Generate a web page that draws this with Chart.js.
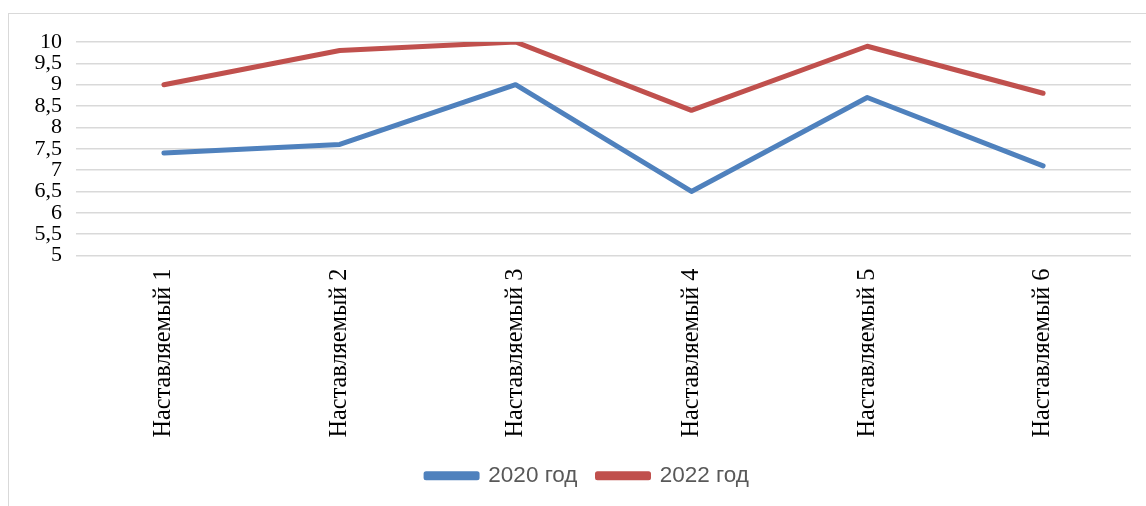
<!DOCTYPE html>
<html>
<head>
<meta charset="utf-8">
<script src="https://cdn.jsdelivr.net/npm/chart.js"></script>
<style>
  html, body { margin: 0; padding: 0; background: #fff; overflow: hidden; }
  #wrap { position: relative; width: 1146px; height: 506px; }
  #frame { position: absolute; left: 8px; top: 13px; width: 1300px; height: 700px; border: 1.5px solid #d9d9d9; box-sizing: border-box; }
  canvas { position: absolute; left: 0; top: 0; }
</style>
</head>
<body>
<div id="wrap">
  <div id="frame"></div>
  <canvas id="c" width="1146" height="506"></canvas>
</div>
<script>
const categories = ["Наставляемый 1", "Наставляемый 2", "Наставляемый 3", "Наставляемый 4", "Наставляемый 5", "Наставляемый 6"];
const series2020 = [7.4, 7.6, 9.0, 6.5, 8.7, 7.1];
const series2022 = [9.0, 9.8, 10.0, 8.4, 9.9, 8.8];
const seriesNames = ["2020 год", "2022 год"];
const yTickLabels = ["5", "5,5", "6", "6,5", "7", "7,5", "8", "8,5", "9", "9,5", "10"];
const yMin = 5, yMax = 10, yStep = 0.5;

const legendShift = {
  id: 'legendShift',
  afterLayout(chart) {
    if (chart.legend) { chart.legend.left += 22; chart.legend.right += 22; }
  }
};

new Chart(document.getElementById('c'), {
  type: 'line',
  data: {
    labels: categories,
    datasets: [
      { label: seriesNames[0], data: series2020, borderColor: '#4f81bd', backgroundColor: '#4f81bd' },
      { label: seriesNames[1], data: series2022, borderColor: '#c0504d', backgroundColor: '#c0504d' }
    ]
  },
  plugins: [legendShift],
  options: {
    responsive: false,
    animation: false,
    layout: { padding: { left: 0, right: 15, top: 42, bottom: 9 } },
    elements: {
      line: { borderWidth: 5, tension: 0, borderCapStyle: 'round', borderJoinStyle: 'round', fill: false },
      point: { radius: 0, hoverRadius: 0 }
    },
    plugins: {
      tooltip: { enabled: false },
      legend: {
        position: 'bottom',
        labels: {
          boxWidth: 51, boxHeight: 4, padding: 20,
          color: '#595959',
          font: { family: 'Liberation Sans', size: 22.5 }
        }
      }
    },
    scales: {
      x: {
        offset: true,
        grid: { display: false },
        border: { display: false },
        ticks: {
          color: '#000', maxRotation: 90, minRotation: 90, padding: 5,
          font: { family: 'Liberation Serif', size: 24.3 }
        },
        afterFit: (s) => { s.height = 189; }
      },
      y: {
        min: yMin, max: yMax,
        grid: { color: '#d9d9d9', lineWidth: 1.5, drawTicks: false },
        border: { display: false },
        ticks: {
          stepSize: yStep, autoSkip: false, color: '#000', padding: 14,
          font: { family: 'Liberation Serif', size: 22 },
          callback: (v, i) => yTickLabels[i]
        },
        afterFit: (s) => { s.width = 76; }
      }
    }
  }
});
</script>
</body>
</html>
